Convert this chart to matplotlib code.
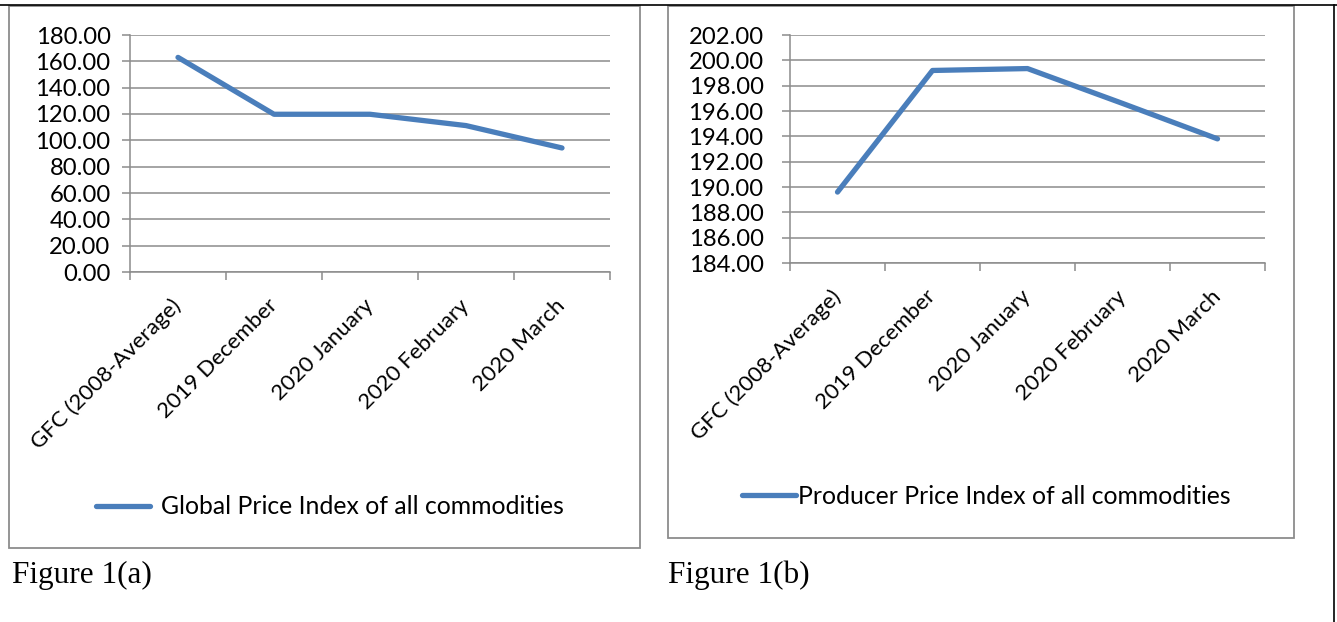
import matplotlib.pyplot as plt
from matplotlib.patches import Rectangle
from matplotlib.lines import Line2D

# data
categories = ['GFC (2008-Average)', '2019 December', '2020 January',
              '2020 February', '2020 March']
global_idx = [163.0, 119.8, 119.8, 111.2, 94.2]
producer_idx = [189.6, 199.2, 199.35, 196.6, 193.8]

W, H = 1337, 622
blue = '#4a7ebb'
grid_c = '#8c8c8c'
font = 'Lato'

fig = plt.figure(figsize=(W / 100, H / 100), dpi=100)


def box(x0, y0, x1, y1):
    # pixel box (top-left origin) -> figure fraction
    return [x0 / W, 1 - y1 / H, (x1 - x0) / W, (y1 - y0) / H]


def make_chart(rect, values, ylim, step, label, leg_xy, textpad, tickpad):
    ax = fig.add_axes(rect)
    x = list(range(len(values)))
    ax.plot(x, values, color=blue, lw=3.8, solid_capstyle='round',
            solid_joinstyle='round', label=label, zorder=3)
    ax.set_xlim(-0.5, len(values) - 0.5)
    ax.set_ylim(*ylim)
    yt = [ylim[0] + i * step for i in range(int(round((ylim[1] - ylim[0]) / step)) + 1)]
    ax.set_yticks(yt)
    ax.set_yticklabels([f'{v:.2f}' for v in yt], fontsize=17.2, family=font)
    ax.grid(axis='y', color=grid_c, lw=1.1)
    ax.set_axisbelow(True)
    for s in ['top', 'right']:
        ax.spines[s].set_visible(False)
    for s in ['left', 'bottom']:
        ax.spines[s].set_color(grid_c)
        ax.spines[s].set_linewidth(1.1)
    ax.tick_params(axis='y', length=6, width=1.1, color=grid_c, pad=tickpad)
    # category boundaries as ticks, labels at centers
    ax.set_xticks([i - 0.5 for i in range(len(values) + 1)], minor=True)
    ax.set_xticks(x)
    ax.set_xticklabels(categories, rotation=45, ha='right', va='center',
                       rotation_mode='anchor', fontsize=16, family=font)
    ax.tick_params(axis='x', which='major', length=0, pad=22)
    ax.tick_params(axis='x', which='minor', length=6, width=1.1, color=grid_c)
    lx, ly = leg_xy
    ax.legend(loc='center', bbox_to_anchor=(lx / W, 1 - ly / H),
              bbox_transform=fig.transFigure, frameon=False,
              prop={'family': font, 'size': 17.8}, handlelength=2.2,
              handletextpad=textpad)
    return ax


make_chart(box(130, 35, 610, 272), global_idx, (0, 180), 20,
           'Global Price Index of all commodities', (330, 507), 0.45, 8)
make_chart(box(790, 35, 1265, 263), producer_idx, (184, 202), 2,
           'Producer Price Index of all commodities', (986, 496), 0.05, 13)

# chart frames
for x0, y0, x1, y1 in [(9, 6, 640, 548), (668, 6, 1294, 538)]:
    fig.patches.append(Rectangle((x0 / W, 1 - y1 / H), (x1 - x0) / W, (y1 - y0) / H,
                                 transform=fig.transFigure, fill=False,
                                 edgecolor=grid_c, lw=1.3))

# table lines of the page
fig.add_artist(Line2D([0, 1], [1 - 5 / H, 1 - 5 / H], color='black', lw=1.2,
                      transform=fig.transFigure))
fig.add_artist(Line2D([1334 / W, 1334 / W], [0, 1 - 5 / H], color='black', lw=1.2,
                      transform=fig.transFigure))

fig.text(12 / W, 1 - 583 / H, 'Figure 1(a)', family='Liberation Serif',
         fontsize=22.5, va='baseline')
fig.text(668 / W, 1 - 583 / H, 'Figure 1(b)', family='Liberation Serif',
         fontsize=22.5, va='baseline')

fig.savefig('out.png', dpi=100)
